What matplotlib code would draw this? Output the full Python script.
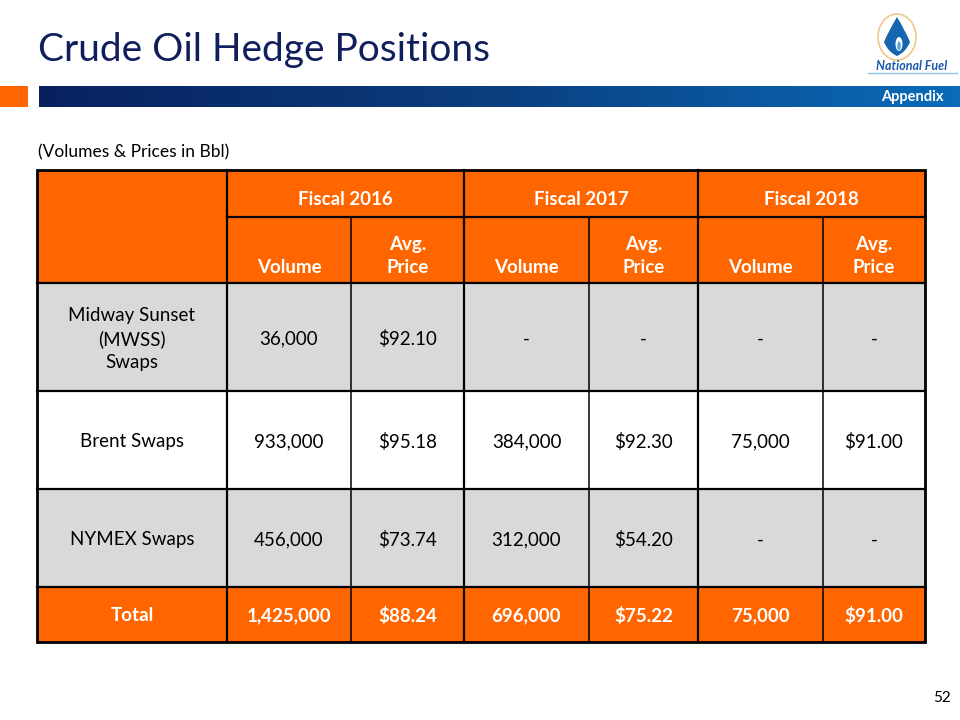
import matplotlib
matplotlib.use("Agg")
import matplotlib.pyplot as plt
import numpy as np
from matplotlib.patches import Rectangle, Ellipse
from matplotlib.path import Path
from matplotlib.patches import PathPatch
from matplotlib.colors import LinearSegmentedColormap

plt.rcParams['font.family'] = ['Lato', 'DejaVu Sans']

# ---------------- data ----------------
title = "Crude Oil Hedge Positions"
subtitle = "(Volumes & Prices in Bbl)"
years = ["Fiscal 2016", "Fiscal 2017", "Fiscal 2018"]
sub_headers = ["Volume", "Avg.\nPrice"]
row_labels = ["Midway Sunset\n(MWSS)\nSwaps", "Brent Swaps", "NYMEX Swaps"]
total_label = "Total"
volumes = [
    ["36,000", "-", "-"],
    ["933,000", "384,000", "75,000"],
    ["456,000", "312,000", "-"],
]
prices = [
    ["$92.10", "-", "-"],
    ["$95.18", "$92.30", "$91.00"],
    ["$73.74", "$54.20", "-"],
]
total_volumes = ["1,425,000", "696,000", "75,000"]
total_prices = ["$88.24", "$75.22", "$91.00"]
page_number = "52"
section = "Appendix"
brand = "National Fuel"

# ---------------- layout ----------------
ORANGE = "#FF6600"
GRAY = "#D9D9D9"
NAVY = "#0F1F5C"

fig = plt.figure(figsize=(9.6, 7.2), dpi=100)
ax = fig.add_axes([0, 0, 1, 1])
ax.set_xlim(0, 960)
ax.set_ylim(720, 0)
ax.axis("off")

# title
ax.text(38, 50, title, fontsize=28, color=NAVY, va="center", ha="left")

# header band
ax.add_patch(Rectangle((0, 86), 28, 21, color=ORANGE, lw=0))
grad = np.linspace(0, 1, 256).reshape(1, -1)
cmap = LinearSegmentedColormap.from_list("band", ["#08215E", "#0B3F80", "#0A6BB8"])
ax.imshow(grad, extent=(39, 960, 107, 86), cmap=cmap, aspect="auto", zorder=1)
ax.text(944, 97.5, section, fontsize=10.5, color="white", fontweight="bold",
        ha="right", va="center", zorder=2)

# logo
ax.add_patch(Ellipse((897, 37), 38, 46, fill=False, ec="#F2C58A", lw=1.2))
verts = [(897, 17), (906, 32), (910, 42), (906, 52), (897, 56), (888, 52), (884, 42), (888, 32), (897, 17)]
codes = [Path.MOVETO] + [Path.CURVE3, Path.CURVE3] * 4
ax.add_patch(PathPatch(Path(verts, codes), fc="#1565B0", ec="none"))
ax.add_patch(Ellipse((899, 44), 7, 14, fc="white", ec="none"))
ax.add_patch(Ellipse((899, 46), 3.5, 9, fc="#4FA8E0", ec="none"))
ax.text(912, 66, brand, fontsize=9, color="#1A5BAA", fontweight="bold",
        style="italic", ha="center", va="center")
ax.plot([868, 957], [73, 73], color="#8FC3E8", lw=1)

# subtitle
ax.text(38, 152, subtitle, fontsize=12.5, color="black", ha="left", va="center")

# table geometry
xs = [37, 227, 351, 464, 589, 698, 823, 925]
ys = [170, 217, 283, 391, 489, 587, 642]

FS = 13.5
DY = 2  # optical vertical correction

def cell(x0, x1, y0, y1, color):
    ax.add_patch(Rectangle((x0, y0), x1 - x0, y1 - y0, fc=color, ec="none", zorder=2))

# header backgrounds
cell(xs[0], xs[-1], ys[0], ys[2], ORANGE)
row_colors = [GRAY, "white", GRAY]
for r in range(3):
    cell(xs[0], xs[-1], ys[2 + r], ys[3 + r], row_colors[r])
cell(xs[0], xs[-1], ys[5], ys[6], ORANGE)

# header texts
for i, yr in enumerate(years):
    xa, xb = xs[1 + 2 * i], xs[3 + 2 * i]
    ax.text((xa + xb) / 2, (ys[0] + ys[1]) / 2 + 6, yr, fontsize=FS, color="white",
            fontweight="bold", ha="center", va="center", zorder=3)
    for j, sh in enumerate(sub_headers):
        xc = (xs[1 + 2 * i + j] + xs[2 + 2 * i + j]) / 2
        ax.text(xc, ys[2] - 7, sh, fontsize=FS, color="white", fontweight="bold",
                ha="center", va="bottom", zorder=3, linespacing=1.45)

# body texts
for r in range(3):
    yc = (ys[2 + r] + ys[3 + r]) / 2 + DY
    ax.text((xs[0] + xs[1]) / 2, yc, row_labels[r], fontsize=FS, color="black",
            ha="center", va="center", zorder=3, linespacing=1.45)
    for i in range(3):
        ax.text((xs[1 + 2 * i] + xs[2 + 2 * i]) / 2, yc, volumes[r][i], fontsize=FS,
                color="black", ha="center", va="center", zorder=3)
        ax.text((xs[2 + 2 * i] + xs[3 + 2 * i]) / 2, yc, prices[r][i], fontsize=FS,
                color="black", ha="center", va="center", zorder=3)

yc = (ys[5] + ys[6]) / 2 + 1
ax.text((xs[0] + xs[1]) / 2, yc, total_label, fontsize=FS, color="white",
        fontweight="bold", ha="center", va="center", zorder=3)
for i in range(3):
    ax.text((xs[1 + 2 * i] + xs[2 + 2 * i]) / 2, yc, total_volumes[i], fontsize=FS,
            color="white", fontweight="bold", ha="center", va="center", zorder=3)
    ax.text((xs[2 + 2 * i] + xs[3 + 2 * i]) / 2, yc, total_prices[i], fontsize=FS,
            color="white", fontweight="bold", ha="center", va="center", zorder=3)

# grid lines
LW_OUT = 2.0
LW_MID = 1.6
LW_IN = 1.1
z = 4
ax.plot([xs[1], xs[-1]], [ys[1], ys[1]], color="black", lw=LW_MID, zorder=z)
for y in ys[2:-1]:
    ax.plot([xs[0], xs[-1]], [y, y], color="black", lw=LW_MID, zorder=z)
for k, x in enumerate(xs[1:-1], start=1):
    if k % 2 == 1:
        ax.plot([x, x], [ys[0], ys[-1]], color="black", lw=LW_MID, zorder=z)
    else:
        ax.plot([x, x], [ys[1], ys[-1]], color="black", lw=LW_IN, zorder=z)
ax.add_patch(Rectangle((xs[0], ys[0]), xs[-1] - xs[0], ys[-1] - ys[0], fill=False,
                       ec="black", lw=LW_OUT, zorder=5))

# page number
ax.text(942, 698, page_number, fontsize=11, color="black", ha="center", va="center")

fig.savefig("out.png", dpi=100)
